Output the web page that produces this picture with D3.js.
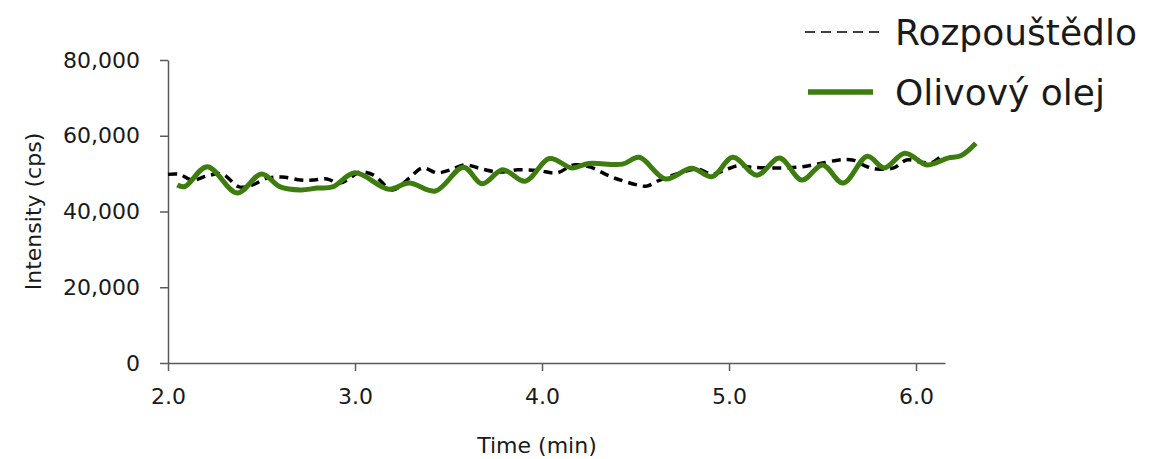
<!DOCTYPE html>
<html>
<head>
<meta charset="utf-8">
<script src="https://cdnjs.cloudflare.com/ajax/libs/d3/7.8.5/d3.min.js"></script>
<style>
  body { margin: 0; background: #fff; }
  text { font-family: "DejaVu Sans", sans-serif; fill: #1a1a1a; }
  .axis path, .axis line { stroke: #5a5a5a; stroke-width: 1.5; }
  .axis text { font-size: 22px; }
</style>
</head>
<body>
<div id="chart"></div>
<script>
// time (min) and intensity (cps)
var solventTime = [2.00, 2.06, 2.13, 2.21, 2.29, 2.38, 2.45, 2.53, 2.61, 2.71, 2.78, 2.85, 2.92,
  3.03, 3.10, 3.20, 3.29, 3.36, 3.44, 3.51, 3.59, 3.68, 3.77, 3.87, 3.98,
  4.08, 4.17, 4.26, 4.35, 4.42, 4.51, 4.56, 4.63, 4.74, 4.83, 4.91, 4.99,
  5.05, 5.12, 5.24, 5.37, 5.47, 5.59, 5.66, 5.73, 5.79, 5.88, 5.95, 6.02, 6.08, 6.15];
var solventValue = [49800, 49800, 48300, 49400, 49900, 46500, 47000, 48800, 49100, 48300, 48300, 48600, 47500,
  50400, 49600, 45700, 48800, 51500, 50200, 51000, 52300, 51200, 50400, 51000, 50800,
  50200, 52300, 51700, 49600, 48300, 47000, 46700, 48300, 50200, 51200, 49900, 51200,
  52100, 51700, 51500, 51700, 52500, 53600, 53600, 52000, 51200, 51500, 53600, 53100, 52800, 55400];

var oilTime = [2.05, 2.09, 2.21, 2.37, 2.50, 2.60, 2.71, 2.80, 2.88, 3.00, 3.18, 3.29, 3.43,
  3.58, 3.68, 3.79, 3.91, 4.04, 4.16, 4.25, 4.43, 4.52, 4.66, 4.80, 4.91,
  5.02, 5.15, 5.27, 5.39, 5.50, 5.61, 5.74, 5.83, 5.94, 6.06, 6.17, 6.24, 6.32];
var oilValue = [47000, 46600, 51800, 44900, 49900, 46500, 45700, 46200, 46500, 50200, 45900, 47500, 45400,
  51700, 47300, 51000, 48000, 54000, 51500, 52700, 52500, 54300, 48600, 51400, 49200,
  54300, 49600, 54100, 48300, 52300, 47500, 54600, 51500, 55400, 52300, 54100, 54700, 58000];

var xTicks = [2, 3, 4, 5, 6];
var yTicks = [0, 20000, 40000, 60000, 80000];
var seriesNames = ["Rozpouštědlo", "Olivový olej"];

(function() {
var margin = {top: 60, right: 227, bottom: 96, left: 168},
    width = 1172 - margin.left - margin.right,
    height = 459 - margin.top - margin.bottom;

// set the ranges
var x = d3.scaleLinear().domain([2, 6.155]).range([0, width]);
var y = d3.scaleLinear().domain([0, 80000]).range([height, 0]);

var svgRoot = d3.select("#chart").append("svg")
    .attr("width", 1172)
    .attr("height", 459);

var svg = svgRoot.append("g")
    .attr("transform", "translate(" + margin.left + "," + margin.top + ")");

// axes
svg.append("g")
    .attr("class", "axis")
    .attr("transform", "translate(0," + height + ")")
    .call(d3.axisBottom(x).tickValues(xTicks).tickFormat(d3.format(".1f"))
      .tickSize(8).tickSizeOuter(0).tickPadding(17));

svg.append("g")
    .attr("class", "axis")
    .call(d3.axisLeft(y).tickValues(yTicks).tickFormat(d3.format(","))
      .tickSize(8).tickSizeOuter(0).tickPadding(20));

// axis titles
svg.append("text")
    .attr("x", x(4) - 5)
    .attr("y", height + 90)
    .attr("text-anchor", "middle")
    .style("font-size", "22px")
    .text("Time (min)");

svg.append("text")
    .attr("transform", "translate(" + (33 - margin.left) + "," + y(40000) + ") rotate(-90)")
    .attr("text-anchor", "middle")
    .attr("dy", "0.35em")
    .style("font-size", "22px")
    .text("Intensity (cps)");

// lines
var line = d3.line()
    .x(function(d) { return x(d[0]); })
    .y(function(d) { return y(d[1]); })
    .curve(d3.curveCatmullRom.alpha(0.5));

svg.append("path")
    .datum(d3.zip(solventTime, solventValue))
    .attr("fill", "none")
    .attr("stroke", "#000")
    .attr("stroke-width", 3.5)
    .attr("stroke-dasharray", "9,6")
    .attr("d", line);

svg.append("path")
    .datum(d3.zip(oilTime, oilValue))
    .attr("fill", "none")
    .attr("stroke", "#3c7d0e")
    .attr("stroke-width", 5)
    .attr("d", line);

// legend
var legend = svgRoot.append("g");

legend.append("line")
    .attr("x1", 805).attr("x2", 879).attr("y1", 32).attr("y2", 32)
    .attr("stroke", "#000").attr("stroke-width", 1.5)
    .attr("stroke-dasharray", "10,6");

legend.append("line")
    .attr("x1", 808).attr("x2", 873).attr("y1", 92).attr("y2", 92)
    .attr("stroke", "#3c7d0e").attr("stroke-width", 5.5);

legend.selectAll("text.leg")
    .data(seriesNames)
  .enter().append("text")
    .attr("class", "leg")
    .attr("x", 895)
    .attr("y", function(d, i) { return 32 + i * 60; })
    .attr("dy", "0.36em")
    .style("font-size", "36px")
    .text(function(d) { return d; });
})();
</script>
</body>
</html>
